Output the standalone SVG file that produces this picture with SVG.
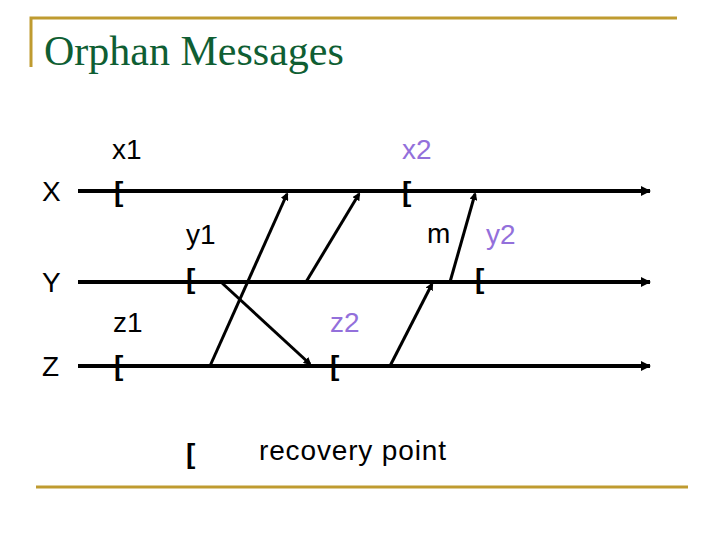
<svg xmlns="http://www.w3.org/2000/svg" width="720" height="540" viewBox="0 0 720 540">
<style>
.gold{stroke:#BF9B30;stroke-width:3;fill:none}
.title{font-family:"Liberation Serif",serif;font-size:42px;fill:#0F5E33}
.lbl{font-family:"Liberation Sans",Arial,sans-serif;font-size:28px;fill:#000}
.pur{fill:#9370DB}
.br{font-family:"Liberation Sans",Arial,sans-serif;font-size:28px;font-weight:bold;fill:#000}
.tl{stroke:#000;stroke-width:4;fill:none}
.msg{stroke:#000;stroke-width:3;fill:none}
</style>
<defs>
<marker id="ah" markerWidth="8" markerHeight="8" refX="6" refY="4" orient="auto" markerUnits="userSpaceOnUse">
<path d="M0,0 L8,4 L0,8 Z" fill="#000"/>
</marker>
<marker id="ah2" markerWidth="10" markerHeight="10" refX="9" refY="5" orient="auto" markerUnits="userSpaceOnUse">
<path d="M0,0 L10,5 L0,10 Z" fill="#000"/>
</marker>
</defs>
<rect width="720" height="540" fill="#fff"/>
<g id="frame">
<polyline class="gold" points="31,67 31,18 677,18"/>
<line class="gold" x1="36" y1="487" x2="688" y2="487"/>
</g>
<text class="title" x="44" y="65">Orphan Messages</text>
<g id="timelines">
<g id="X"><text class="lbl" x="42" y="201">X</text><line class="tl" x1="78" y1="191" x2="650" y2="191" marker-end="url(#ah2)"/></g>
<g id="Y"><text class="lbl" x="42" y="292">Y</text><line class="tl" x1="78" y1="282" x2="650" y2="282" marker-end="url(#ah2)"/></g>
<g id="Z"><text class="lbl" x="42" y="376">Z</text><line class="tl" x1="78" y1="366" x2="650" y2="366" marker-end="url(#ah2)"/></g>
</g>
<g id="checkpoints">
<g id="x1"><text class="lbl" x="112" y="159">x1</text><text class="br" x="114" y="201">[</text></g>
<g id="x2"><text class="lbl pur" x="402" y="159">x2</text><text class="br" x="402" y="201">[</text></g>
<g id="y1"><text class="lbl" x="186" y="244">y1</text><text class="br" x="186" y="288">[</text></g>
<g id="y2"><text class="lbl pur" x="486" y="244">y2</text><text class="br" x="475" y="288">[</text></g>
<g id="z1"><text class="lbl" x="113" y="332">z1</text><text class="br" x="114" y="375">[</text></g>
<g id="z2"><text class="lbl pur" x="330" y="332">z2</text><text class="br" x="330" y="375">[</text></g>
</g>
<g id="connectors">
<line class="msg" x1="210" y1="366" x2="287" y2="194" marker-end="url(#ah)"/>
<line class="msg" x1="306" y1="282" x2="359" y2="194" marker-end="url(#ah)"/>
<line class="msg" x1="222" y1="283" x2="310" y2="364" marker-end="url(#ah)"/>
<line class="msg" x1="450" y1="282" x2="475" y2="194" marker-end="url(#ah)"/>
<line class="msg" x1="390" y1="366" x2="432" y2="284" marker-end="url(#ah)"/>
</g>
<text class="lbl" x="427" y="243">m</text>
<g id="legend"><text class="br" x="186" y="463">[</text><text class="lbl" x="259" y="460" textLength="187">recovery point</text></g>
</svg>
